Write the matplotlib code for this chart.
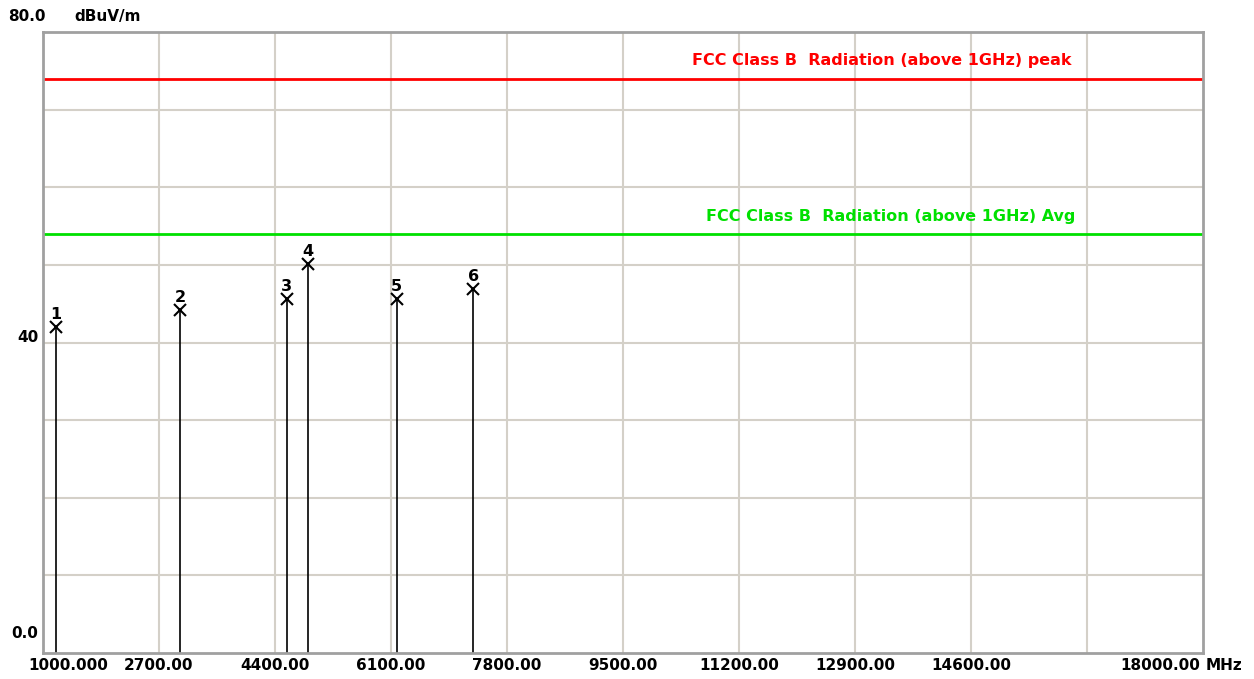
import numpy as np
import matplotlib.pyplot as plt

# данные
marker_no = ["1", "2", "3", "4", "5", "6"]
freq_mhz = [1198, 3013, 4576, 4883, 6186, 7308]
level_dbuv = [41.96, 44.19, 45.57, 50.07, 45.57, 46.93]

limit_peak = 74.0
limit_avg = 54.0
limit_peak_label = "FCC Class B  Radiation (above 1GHz) peak"
limit_avg_label = "FCC Class B  Radiation (above 1GHz) Avg"

x_ticks = [1000, 2700, 4400, 6100, 7800, 9500, 11200, 12900, 14600, 16300, 18000]
x_tick_labels = ["1000.000", "2700.00", "4400.00", "6100.00", "7800.00", "9500.00",
                 "11200.00", "12900.00", "14600.00", "", "18000.00"]
y_ticks = [0, 10, 20, 30, 40, 50, 60, 70, 80]

W, H = 1254, 679
fig = plt.figure(figsize=(W / 100, H / 100), dpi=100)
ax = fig.add_axes([42.5 / W, (H - 653) / H, (1203 - 42.5) / W, (653 - 32) / H])
ax.set_xlim(1000, 18000)
ax.set_ylim(0, 80)

# сетка
for xv in x_ticks[1:-1]:
    ax.axvline(xv, color="#d4d0c8", lw=1.5, zorder=0)
for yv in y_ticks[1:-1]:
    ax.axhline(yv, color="#d4d0c8", lw=1.5, zorder=0)
ax.set_xticks([])
ax.set_yticks([])
for s in ax.spines.values():
    s.set_color("#a0a0a0")
    s.set_linewidth(2)

fnt = dict(fontsize=11, fontweight="bold", family="DejaVu Sans")

# пределы
ax.axhline(limit_peak, color="#ff0000", lw=2)
ax.axhline(limit_avg, color="#00e000", lw=2)
ax.text(16074, limit_peak + 1.3, limit_peak_label, color="#ff0000", ha="right", va="bottom",
        fontsize=11.5, fontweight="bold")
ax.text(16133, limit_avg + 1.3, limit_avg_label, color="#00e000", ha="right", va="bottom",
        fontsize=11.5, fontweight="bold")

# маркеры
ax.vlines(freq_mhz, 0, level_dbuv, color="black", lw=1.2)
ax.plot(freq_mhz, level_dbuv, "x", color="black", ms=8, mew=1.5)
for n, f, v in zip(marker_no, freq_mhz, level_dbuv):
    ax.annotate(n, (f, v), xytext=(0, 3.5), textcoords="offset points",
                ha="center", va="bottom", fontsize=11.5, fontweight="bold")

# подписи осей
ax.annotate("80.0", (0, 1), xycoords="axes fraction", xytext=(-34, 8),
            textcoords="offset pixels", ha="left", va="bottom", **fnt)
ax.annotate("dBuV/m", (0, 1), xycoords="axes fraction", xytext=(32, 8),
            textcoords="offset pixels", ha="left", va="bottom", **fnt)
ax.annotate("40", (0, 40), xycoords=("axes fraction", "data"), xytext=(-4, 5),
            textcoords="offset pixels", ha="right", va="center", **fnt)
ax.annotate("0.0", (0, 0), xycoords=("axes fraction", "data"), xytext=(-4, 19),
            textcoords="offset pixels", ha="right", va="center", **fnt)

for i, (xv, lab) in enumerate(zip(x_ticks, x_tick_labels)):
    if lab == "":
        continue
    dx, ha = 0, "center"
    if i == 0:
        dx, ha = -14, "left"
    if i == len(x_ticks) - 1:
        dx, ha = -3, "right"
    ax.annotate(lab, (xv, 0), xycoords=("data", "axes fraction"), xytext=(dx, -12),
                textcoords="offset pixels", ha=ha, va="center", **fnt)
ax.annotate("MHz", (1, 0), xycoords="axes fraction", xytext=(3, -12),
            textcoords="offset pixels", ha="left", va="center", **fnt)

fig.savefig("out.png", dpi=100)
